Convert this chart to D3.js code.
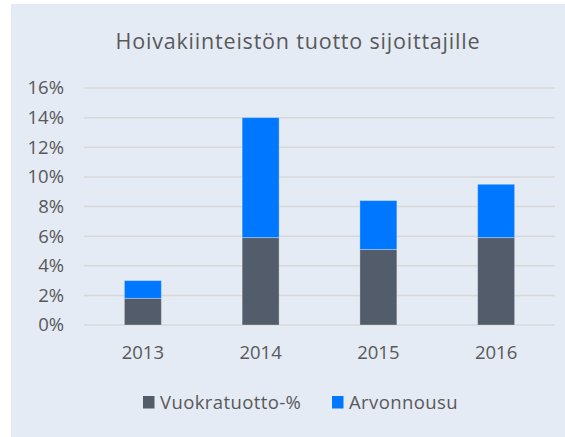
<!DOCTYPE html>
<html>
<head>
<meta charset="utf-8">
<script src="https://cdn.jsdelivr.net/npm/d3@7"></script>
<style>
  body { margin: 0; background: #fff; }
  text { font-family: "Open Sans", sans-serif; fill: #595959; }
</style>
</head>
<body>
<svg id="chart" width="565" height="437"></svg>
<script>
// chart data
const years = ["2013", "2014", "2015", "2016"];
const vuokratuotto = [1.8, 5.9, 5.1, 5.9];
const arvonnousu = [1.2, 8.1, 3.3, 3.6];
const yTicks = [0, 2, 4, 6, 8, 10, 12, 14, 16];
const seriesNames = ["Vuokratuotto-%", "Arvonnousu"];
const seriesColors = ["#535c6a", "#0077ff"];

const svg = d3.select("#chart");

// panel background
svg.append("rect")
  .attr("x", 11).attr("y", 4)
  .attr("width", 554).attr("height", 433)
  .attr("fill", "#e4ebf5");

const x = d3.scaleBand()
  .domain(years)
  .range([84, 555])
  .paddingInner(0.686)
  .paddingOuter(0.343);

const y = d3.scaleLinear()
  .domain([0, 16])
  .range([325, 88]);

// title
svg.append("text")
  .attr("x", 298).attr("y", 49)
  .attr("text-anchor", "middle")
  .style("font-size", "21.5px")
  .style("letter-spacing", "0.8px")
  .text("Hoivakiinteistön tuotto sijoittajille");

// gridlines
svg.append("g")
  .selectAll("line")
  .data(yTicks)
  .join("line")
  .attr("x1", 84).attr("x2", 555)
  .attr("y1", d => y(d)).attr("y2", d => y(d))
  .attr("stroke", "#d8d8d8")
  .attr("stroke-width", 1.5);

// y labels
svg.append("g")
  .selectAll("text")
  .data(yTicks)
  .join("text")
  .attr("x", 64)
  .attr("y", d => y(d))
  .attr("dy", "0.35em")
  .attr("text-anchor", "end")
  .style("font-size", "18.5px")
  .text(d => d + "%");

// stacked bars
const rows = years.map((yr, i) => ({ year: yr, v: vuokratuotto[i], a: arvonnousu[i] }));
const stack = d3.stack().keys(["v", "a"]);
const layers = stack(rows);

svg.append("g")
  .selectAll("g")
  .data(layers)
  .join("g")
  .attr("fill", (d, i) => seriesColors[i])
  .selectAll("rect")
  .data(d => d)
  .join("rect")
  .attr("x", d => x(d.data.year))
  .attr("width", x.bandwidth())
  .attr("y", d => y(d[1]))
  .attr("height", d => y(d[0]) - y(d[1]))
  .attr("stroke", "rgba(255,255,255,0.3)")
  .attr("stroke-width", 1);

// x labels
svg.append("g")
  .selectAll("text")
  .data(years)
  .join("text")
  .attr("x", d => x(d) + x.bandwidth() / 2)
  .attr("y", 359)
  .attr("text-anchor", "middle")
  .style("font-size", "18.5px")
  .text(d => d);

// legend
const legendX = [143, 332];
const leg = svg.append("g")
  .selectAll("g")
  .data(seriesNames)
  .join("g")
  .attr("transform", (d, i) => `translate(${legendX[i]},396)`);

leg.append("rect")
  .attr("width", 11.5).attr("height", 12.5)
  .attr("fill", (d, i) => seriesColors[i]);

leg.append("text")
  .attr("x", 17).attr("y", 12.5)
  .style("font-size", "18.5px")
  .style("letter-spacing", "0.4px")
  .text(d => d);
</script>
</body>
</html>
